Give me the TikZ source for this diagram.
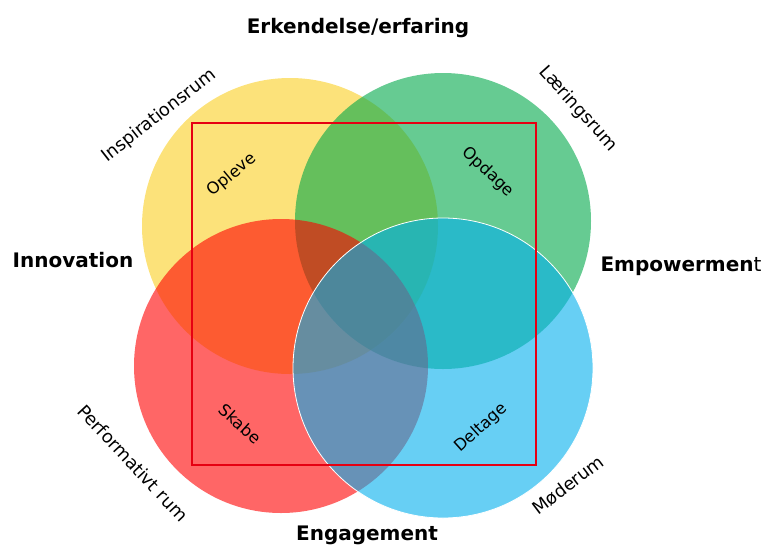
\documentclass[tikz,border=0pt]{standalone}
\usepackage{fontspec}
\setmainfont{DejaVu Sans}
\usepackage{tikz}
\usetikzlibrary{shapes.geometric, positioning, calc}
\definecolor{setyellow}{RGB}{250,207,33}
\definecolor{setgreen}{RGB}{0,168,73}
\definecolor{setred}{RGB}{255,0,0}
\definecolor{setblue}{RGB}{2,175,237}
\definecolor{framered}{RGB}{230,0,18}
\tikzstyle{set} = [circle, minimum size=296pt, inner sep=0pt, fill opacity=0.6]
\tikzstyle{heading} = [font=\fontsize{20}{24}\selectfont\bfseries]
\tikzstyle{room} = [font=\fontsize{17.8}{21}\selectfont]
\tikzstyle{verb} = [font=\fontsize{16.3}{19}\selectfont]

\begin{document}
\begin{tikzpicture}[x=1pt, y=-1pt]
\useasboundingbox (0,0) rectangle (761,547);
% Circles
\node (yellow) [set, fill=setyellow] at (290,226) {};
\node (green) [set, fill=setgreen] at (443,221) {};
\node (red) [set, fill=setred, minimum size=294pt] at (281,366) {};
\node (blue) [set, fill=setblue, draw=white, line width=0.8pt, minimum size=300pt] at (443,368) {};

% Frame
\draw [framered, line width=1.3pt] (192,123) rectangle (536,465);

% Headings
\node (top) [heading] at (358,28) {Erkendelse/erfaring};
\node (left) [heading] at (73,260) {Innovation};
\node (right) [heading, anchor=west] at (597,266) {Empowermen\mdseries t};
\node (bottom) [heading] at (367,535) {Engagement};

% Labels
\node (inspiration) [room, rotate=38] at (159,116) {Inspirationsrum};
\node (opleve) [verb, rotate=40] at (232,175) {Opleve};
\node (opdage) [verb, rotate=-43] at (488,172) {Opdage};
\node (laering) [room, rotate=-48] at (578,109) {Læringsrum};
\node (performativ) [room, rotate=-47] at (133,463) {Performativt rum};
\node (skabe) [verb, rotate=-42] at (240,424) {Skabe};
\node (deltage) [verb, rotate=42] at (481,428) {Deltage};
\node (moede) [room, rotate=37] at (568,485) {Møderum};
\end{tikzpicture}
\end{document}
